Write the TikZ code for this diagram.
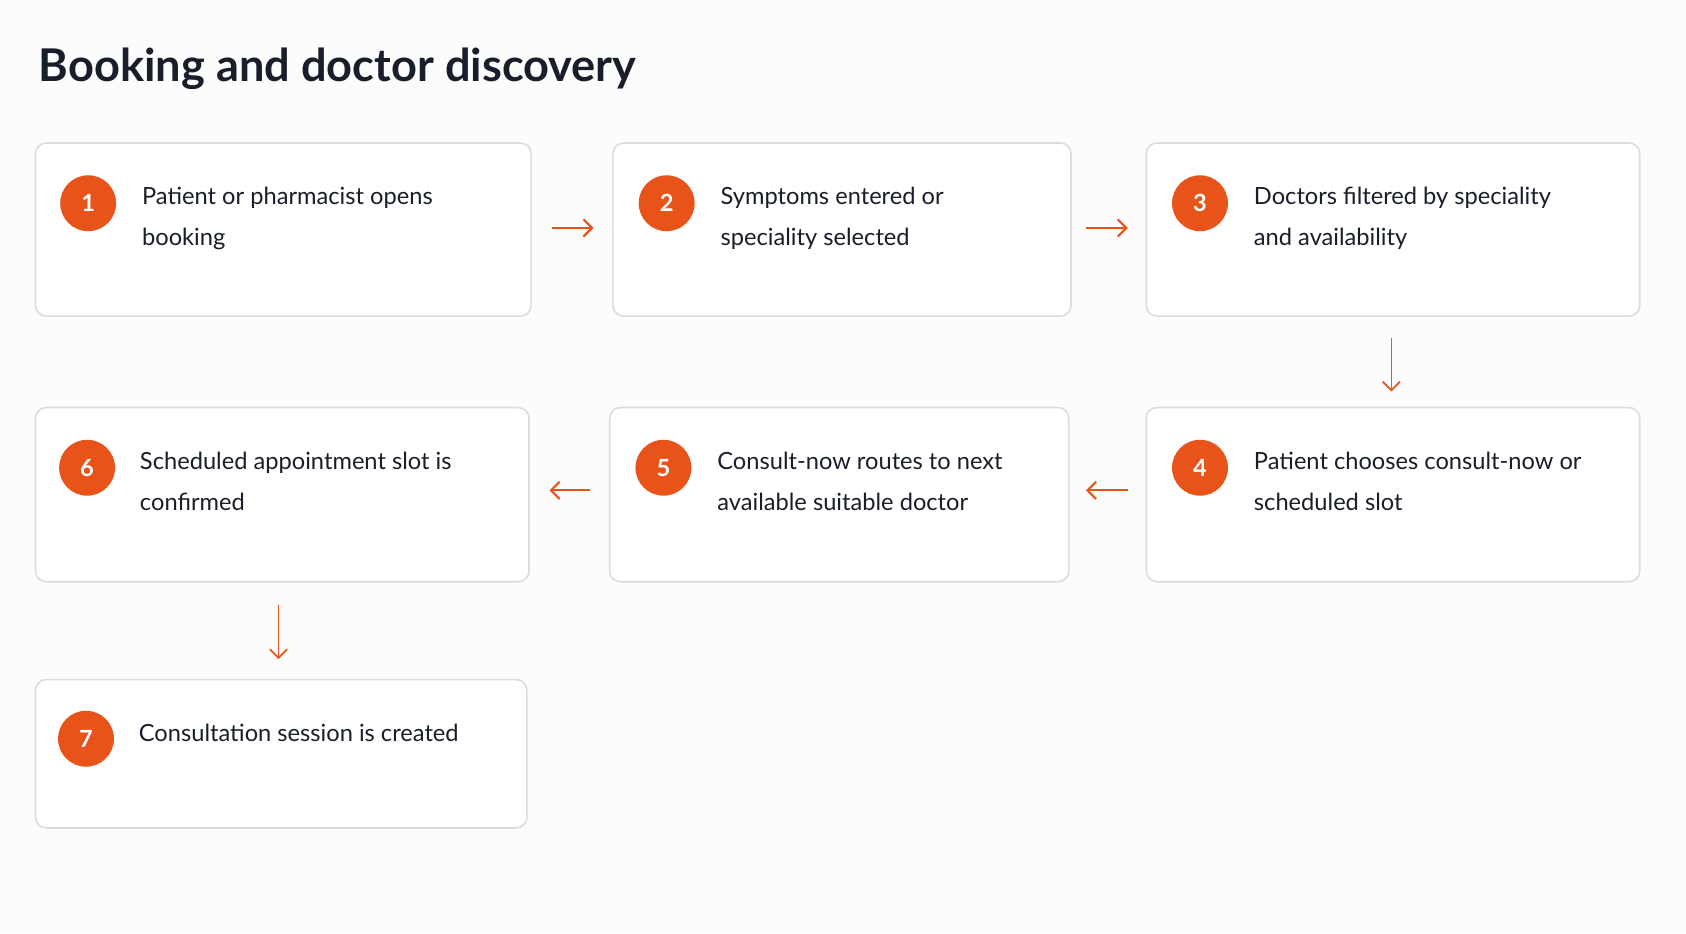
\documentclass[tikz,border=0pt]{standalone}
\usepackage{fontspec}
\setmainfont{Lato}
\usetikzlibrary{arrows.meta}
\definecolor{org}{HTML}{E8531A}
\definecolor{bd}{HTML}{DCDCE0}
\definecolor{ink}{HTML}{1A1E2A}
\begin{document}
\begin{tikzpicture}[x=1pt,y=-1pt,
  box/.style={draw=bd,line width=1.5pt,rounded corners=10pt,fill=white},
  num/.style={circle,fill=org,minimum size=52pt,inner sep=0pt,text=white,font=\fontsize{22}{22}\selectfont\bfseries},
  lab/.style={anchor=north west,align=left,inner sep=0pt,text=ink,font=\fontsize{22}{38}\selectfont},
  arr/.style={draw=org,line width=2pt,-{Straight Barb[length=8pt,width=16pt]}}]
\useasboundingbox (0,0) rectangle (1568,868);
\fill[white!98!gray] (0,0) rectangle (1568,868);
\node[anchor=base west,inner sep=0pt,text=ink,font=\fontsize{42}{42}\selectfont\bfseries] (title) at (36,76) {Booking and doctor discovery};
\draw[box] (33,133) rectangle (494,294) coordinate (b1);
\draw[box] (570,133) rectangle (996,294);
\draw[box] (1066,133) rectangle (1525,294);
\draw[box] (33,379) rectangle (492,541);
\draw[box] (567,379) rectangle (994,541);
\draw[box] (1066,379) rectangle (1525,541);
\draw[box] (33,632) rectangle (490,770);
\node[num] (n1) at (82,189) {1};
\node[num] (n2) at (620,189) {2};
\node[num] (n3) at (1116,189) {3};
\node[num] (n4) at (1116,435) {4};
\node[num] (n5) at (617,435) {5};
\node[num] (n6) at (81,435) {6};
\node[num] (n7) at (80,687) {7};
\node[lab] (t1) at (132,174) {Patient or pharmacist opens\\booking};
\node[lab] (t2) at (670,174) {Symptoms entered or\\speciality selected};
\node[lab] (t3) at (1166,174) {Doctors filtered by speciality\\and availability};
\node[lab] (t4) at (1166,420) {Patient chooses consult-now or\\scheduled slot};
\node[lab] (t5) at (667,420) {Consult-now routes to next\\available suitable doctor};
\node[lab] (t6) at (130,420) {Scheduled appointment slot is\\confirmed};
\node[lab] (t7) at (129,673) {Consultation session is created};
\coordinate (a1) at (513,212); \coordinate (a1e) at (552,212);
\coordinate (a2) at (1010,212); \coordinate (a2e) at (1049,212);
\coordinate (a3) at (1294,314); \coordinate (a3e) at (1294,364);
\coordinate (a4) at (1049,456); \coordinate (a4e) at (1010,456);
\coordinate (a5) at (549,456); \coordinate (a5e) at (511,456);
\coordinate (a6) at (259,563); \coordinate (a6e) at (259,613);
\draw[arr] (a1) -- (a1e);
\draw[arr] (a2) -- (a2e);
\draw[arr,line width=1.6pt] (a3) -- (a3e);
\draw[arr] (a4) -- (a4e);
\draw[arr] (a5) -- (a5e);
\draw[arr,line width=1.6pt] (a6) -- (a6e);
\end{tikzpicture}
\end{document}
